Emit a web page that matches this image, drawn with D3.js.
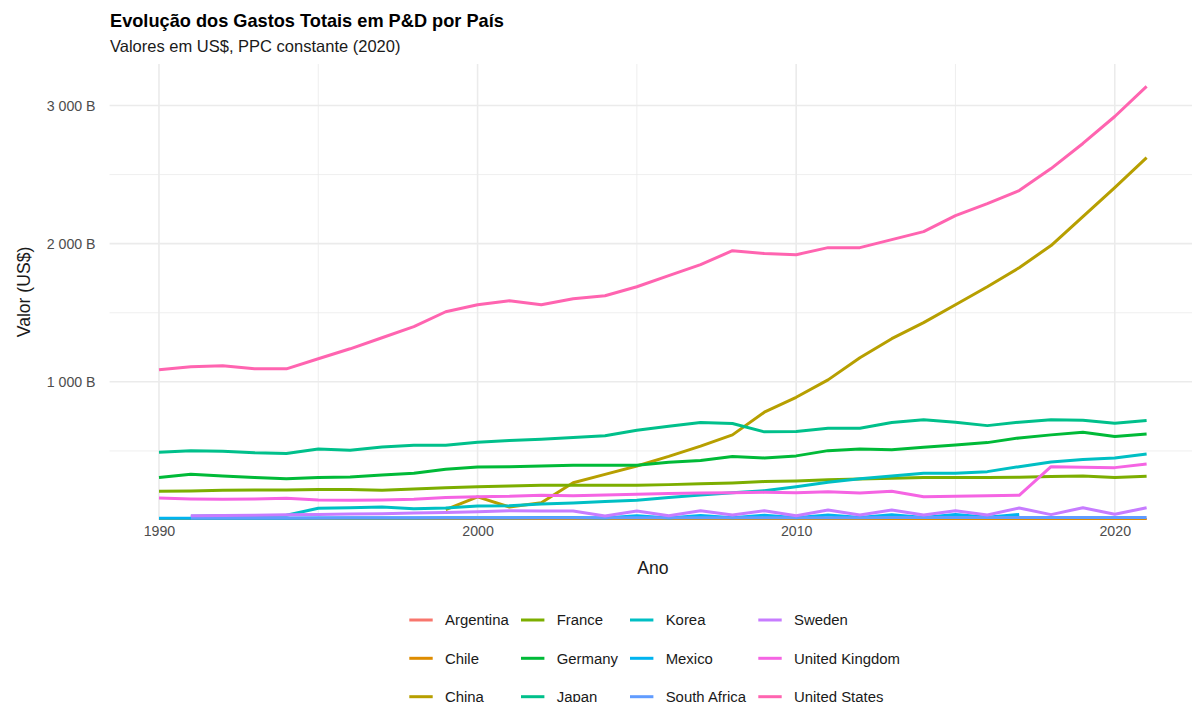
<!DOCTYPE html>
<html>
<head>
<meta charset="utf-8">
<script src="https://cdn.jsdelivr.net/npm/d3@7"></script>
<style>
  body { margin: 0; background: #fff; }
  svg { display: block; font-family: "Liberation Sans", Arial, sans-serif; }
</style>
</head>
<body>
<svg id="chart"></svg>
<script>
const width = 1192;
const height = 702;

const years = [1990, 1991, 1992, 1993, 1994, 1995, 1996, 1997, 1998, 1999,
               2000, 2001, 2002, 2003, 2004, 2005, 2006, 2007, 2008, 2009,
               2010, 2011, 2012, 2013, 2014, 2015, 2016, 2017, 2018, 2019,
               2020, 2021];

const countries = ["Argentina", "Chile", "China", "France", "Germany", "Japan",
                   "Korea", "Mexico", "South Africa", "Sweden", "United Kingdom", "United States"];
const colors = ["#F8766D", "#DE8C00", "#B79F00", "#7CAE00", "#00BA38", "#00C08B",
                "#00BFC4", "#00B4F0", "#619CFF", "#C77CFF", "#F564E3", "#FF64B0"];

// values in billions of US$ (null = no data)
const argentina = [5, 5, 5, 5, 6, 6, 6, 6, 6, 6, 6, 5, 4, 4, 5, 5, 6, 6, 7, 7, 8, 8, 8, 8, 7, 7, 7, 7, 6, 6, 5, 5];
const chile = [2, 2, 2, 2, 2, 2, 2, 2, 2, 2, 2, 2, 2, 2, 2, 2, 2, 2, 2, 2, 2, 2, 2, 3, 3, 3, 3, 3, 3, 3, 3, 3];
const china = [null, null, null, null, null, null, null, null, null, 75,
               167, 94, 125, 270, 330, 391, 460, 535, 616, 780,
               888, 1014, 1174, 1312, 1428, 1558, 1688, 1826, 1986, 2196,
               2406, 2623];
const france = [208, 210, 215, 217, 217, 220, 220, 215, 225, 234,
                241, 246, 251, 251, 251, 251, 256, 263, 268, 278,
                283, 292, 297, 302, 307, 307, 307, 309, 314, 319,
                307, 316];
const germany = [307, 331, 319, 307, 299, 307, 312, 326, 338, 367,
                 384, 386, 391, 396, 396, 396, 418, 430, 459, 449,
                 464, 502, 514, 509, 527, 543, 560, 594, 616, 635,
                 604, 623];
const japan = [491, 502, 497, 486, 481, 514, 505, 529, 541, 541,
               563, 575, 585, 597, 609, 650, 679, 705, 698, 638,
               640, 664, 664, 705, 725, 708, 683, 708, 725, 722,
               700, 720];
const korea = [null, 28, 30, 32, 35, 85, 89, 94, 82, 87,
               101, 104, 116, 123, 133, 143, 162, 181, 198, 212,
               241, 273, 299, 319, 338, 338, 350, 386, 420, 437,
               449, 478];
const mexico = [12, 12, 13, 13, 13, 14, 14, 15, 15, 16,
                16, 17, 18, 18, 15, 30, 15, 32, 16, 34,
                17, 36, 18, 38, 18, 40, 20, 40, null, null,
                null, null];
const southAfrica = [null, 15, 15, 15, 15, 15, 16, 16, 16, 16,
                     16, 16, 16, 17, 17, 17, 17, 17, 17, 17,
                     17, 17, 17, 18, 18, 18, 18, 18, 18, 18,
                     18, 18];
const sweden = [null, 31, 33, 35, 38, 40, 43, 46, 50, 55,
                60, 67, 65, 65, 29, 65, 31, 67, 36, 67,
                31, 72, 36, 72, 36, 67, 36, 87, 39, 89,
                41, 89];
const unitedKingdom = [159, 152, 150, 152, 157, 145, 143, 145, 150, 162,
                       169, 171, 179, 176, 181, 186, 191, 196, 198, 200,
                       198, 205, 196, 208, 169, 171, 176, 179, 386, 382,
                       379, 406];
const unitedStates = [1087, 1109, 1116, 1094, 1094, 1167, 1239, 1319, 1399, 1507,
                      1558, 1587, 1558, 1601, 1623, 1688, 1768, 1848, 1949, 1928,
                      1920, 1971, 1971, 2029, 2087, 2203, 2290, 2384, 2543, 2725,
                      2920, 3138];

const seriesValues = [argentina, chile, china, france, germany, japan,
                      korea, mexico, southAfrica, sweden, unitedKingdom, unitedStates];

const yMajor = [1000, 2000, 3000];
const yMinor = [500, 1500, 2500];
const xMajor = [1990, 2000, 2010, 2020];
const xMinor = [1995, 2005, 2015];

const series = countries.map((name, i) => ({
  name: name,
  color: colors[i],
  points: years.map((yr, j) => ({year: yr, value: seriesValues[i][j]}))
}));

// panel
const panel = {left: 109.6, right: 1196, top: 64, bottom: 520};

const x = d3.scaleLinear()
  .domain([1988.45, 2022.55])
  .range([panel.left, panel.right]);
const y = d3.scaleLinear()
  .domain([0, 3300])
  .range([panel.bottom, panel.top]);

const svg = d3.select("#chart")
  .attr("width", width)
  .attr("height", height);

svg.append("defs").append("clipPath")
    .attr("id", "panel-clip")
  .append("rect")
    .attr("x", panel.left)
    .attr("y", panel.top)
    .attr("width", panel.right - panel.left)
    .attr("height", panel.bottom - panel.top);

// grid
const grid = svg.append("g");
grid.selectAll(".hminor").data(yMinor).enter().append("line")
  .attr("x1", panel.left).attr("x2", panel.right)
  .attr("y1", d => y(d)).attr("y2", d => y(d))
  .attr("stroke", "#EBEBEB").attr("stroke-width", 0.8);
grid.selectAll(".vminor").data(xMinor).enter().append("line")
  .attr("y1", panel.top).attr("y2", panel.bottom)
  .attr("x1", d => x(d)).attr("x2", d => x(d))
  .attr("stroke", "#EBEBEB").attr("stroke-width", 0.8);
grid.selectAll(".hmajor").data(yMajor).enter().append("line")
  .attr("x1", panel.left).attr("x2", panel.right)
  .attr("y1", d => y(d)).attr("y2", d => y(d))
  .attr("stroke", "#EBEBEB").attr("stroke-width", 1.6);
grid.selectAll(".vmajor").data(xMajor).enter().append("line")
  .attr("y1", panel.top).attr("y2", panel.bottom)
  .attr("x1", d => x(d)).attr("x2", d => x(d))
  .attr("stroke", "#EBEBEB").attr("stroke-width", 1.6);

// axes labels (no lines, theme_minimal style)
const yAxis = svg.append("g")
  .attr("transform", `translate(${panel.left - 11},0)`)
  .call(d3.axisLeft(y).tickValues(yMajor).tickSize(0)
    .tickFormat(d => d3.format(",")(d).replace(/,/g, " ") + " B"));
yAxis.select(".domain").remove();
yAxis.selectAll("text")
  .attr("fill", "#4D4D4D")
  .style("font-size", "14.2px")
  .style("font-family", "'Liberation Sans', Arial, sans-serif");

const xAxis = svg.append("g")
  .attr("transform", `translate(0,${panel.bottom + 3})`)
  .call(d3.axisBottom(x).tickValues(xMajor).tickSize(0).tickFormat(d3.format("d")));
xAxis.select(".domain").remove();
xAxis.selectAll("text")
  .attr("fill", "#4D4D4D")
  .style("font-size", "14.2px")
  .style("font-family", "'Liberation Sans', Arial, sans-serif");

// lines
const lineGen = d3.line()
  .defined(d => d.value !== null)
  .x(d => x(d.year))
  .y(d => y(d.value));

svg.append("g")
    .attr("clip-path", "url(#panel-clip)")
  .selectAll("path")
  .data(series)
  .enter()
  .append("path")
    .attr("fill", "none")
    .attr("stroke", d => d.color)
    .attr("stroke-width", 3)
    .attr("stroke-linejoin", "round")
    .attr("d", d => lineGen(d.points));

// titles
svg.append("text")
  .attr("x", 110).attr("y", 27)
  .attr("font-size", "18.2px").attr("font-weight", "bold")
  .attr("fill", "#000")
  .text("Evolução dos Gastos Totais em P&D por País");
svg.append("text")
  .attr("x", 110).attr("y", 52)
  .attr("font-size", "16.5px")
  .attr("fill", "#1a1a1a")
  .text("Valores em US$, PPC constante (2020)");

svg.append("text")
  .attr("x", (panel.left + panel.right) / 2).attr("y", 574)
  .attr("text-anchor", "middle")
  .attr("font-size", "17.6px")
  .attr("fill", "#1a1a1a")
  .text("Ano");

svg.append("text")
  .attr("transform", `translate(30,${(panel.top + panel.bottom) / 2}) rotate(-90)`)
  .attr("text-anchor", "middle")
  .attr("font-size", "17.6px")
  .attr("fill", "#1a1a1a")
  .text("Valor (US$)");

// legend, filled by column
const legendCols = [409.3, 521, 630, 758.3];
const legendRows = [620, 658.3, 696.7];
const legend = svg.append("g")
  .selectAll("g")
  .data(series)
  .enter()
  .append("g")
    .attr("transform", (d, i) =>
      `translate(${legendCols[Math.floor(i / 3)]},${legendRows[i % 3]})`);
legend.append("line")
  .attr("x1", 0).attr("x2", 23.4)
  .attr("stroke", d => d.color)
  .attr("stroke-width", 3);
legend.append("text")
  .attr("x", 35.7).attr("dy", "0.36em")
  .attr("font-size", "14.9px")
  .attr("fill", "#1a1a1a")
  .text(d => d.name);
</script>
</body>
</html>
